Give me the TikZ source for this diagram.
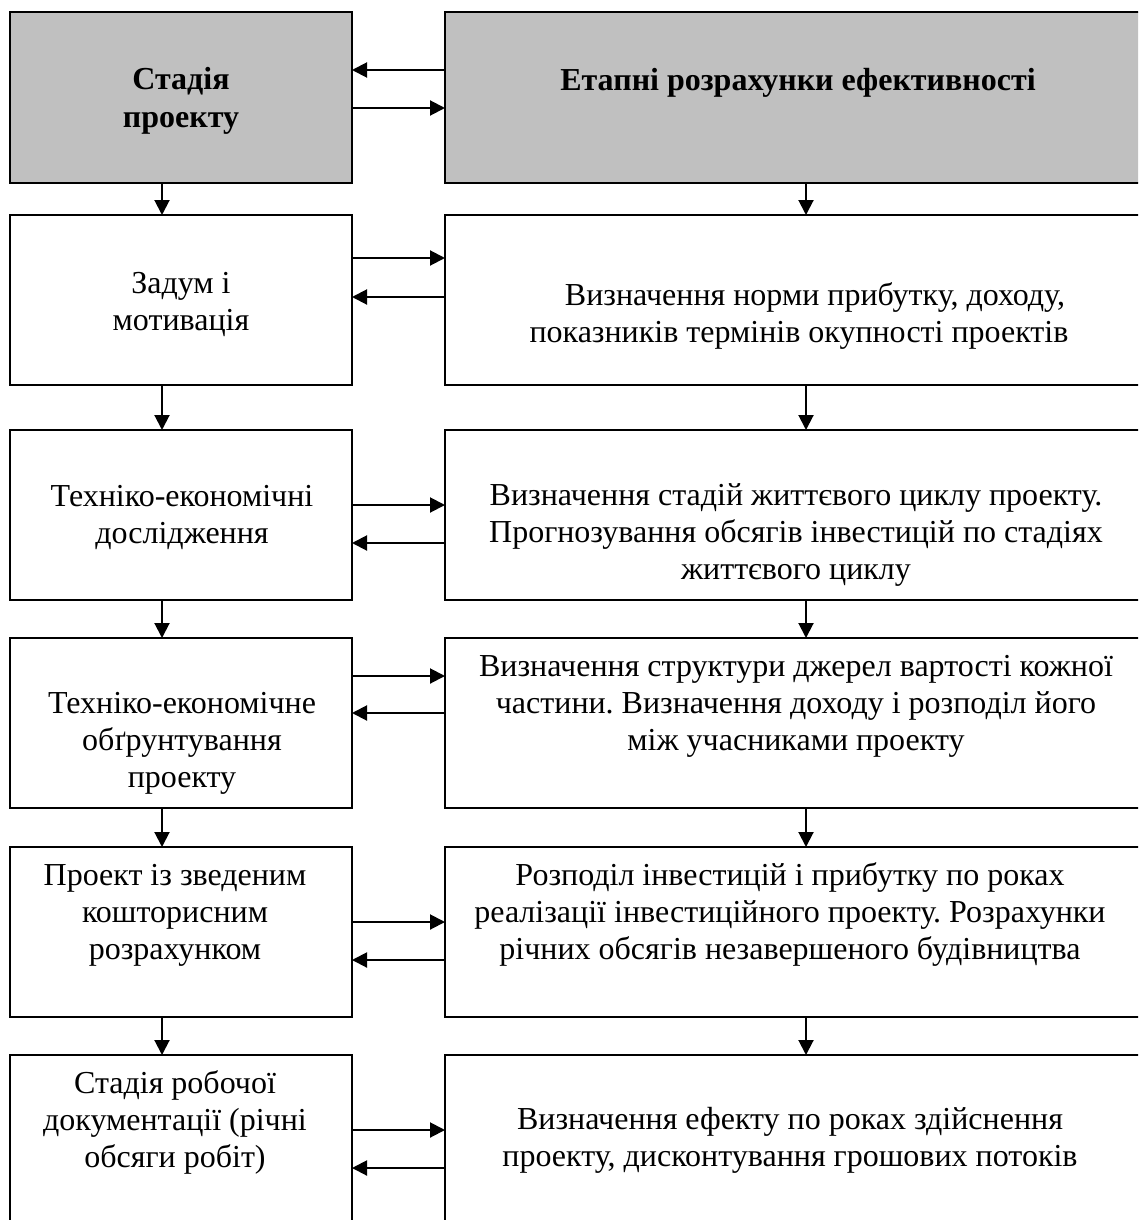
\documentclass[tikz,border=0pt]{standalone}
\usepackage{fontspec}
\setmainfont{Liberation Serif}
\usetikzlibrary{arrows.meta}
\definecolor{boxgray}{RGB}{192,192,192}
\frenchspacing
\tikzset{
  box/.style={draw=black, line width=1.5pt, anchor=north west, inner sep=0pt, outer sep=0pt},
  lbox/.style={box, minimum width=342pt},
  rbox/.style={box, minimum width=703pt},
  head/.style={fill=boxgray},
  txt/.style={align=center, inner sep=0pt, font=\fontsize{32pt}{37pt}\selectfont\frenchspacing},
  btxt/.style={txt, font=\fontsize{32pt}{38pt}\selectfont\bfseries\frenchspacing},
  arr/.style={line width=2pt, -{Triangle[length=15pt,width=15pt]}}
}
\begin{document}
\begin{tikzpicture}[x=1pt,y=-1pt]
\useasboundingbox (0,0) rectangle (1138,1220);
\clip (0,0) rectangle (1138,1220);
% boxes
\node[lbox, head, minimum height=171pt] (l1) at (10,12) {};
\node[rbox, head, minimum height=171pt] (r1) at (445,12) {};
\node[lbox, minimum height=170pt] (l2) at (10,215) {};
\node[rbox, minimum height=170pt] (r2) at (445,215) {};
\node[lbox, minimum height=170pt] (l3) at (10,430) {};
\node[rbox, minimum height=170pt] (r3) at (445,430) {};
\node[lbox, minimum height=170pt] (l4) at (10,638) {};
\node[rbox, minimum height=170pt] (r4) at (445,638) {};
\node[lbox, minimum height=170pt] (l5) at (10,847) {};
\node[rbox, minimum height=170pt] (r5) at (445,847) {};
\node[lbox, minimum height=172pt] (l6) at (10,1055) {};
\node[rbox, minimum height=172pt] (r6) at (445,1055) {};
% texts
\node[btxt] (tl1) at (181,101) {Стадія\\проекту};
\node[btxt] (tr1) at (798,83) {Етапні розрахунки ефективності};
\node[txt] (tl2) at (181,304) {Задум і\\мотивація};
\node[txt] (tr2) at (799,316) {\hspace*{32pt}Визначення норми прибутку, доходу,\\показників термінів окупності проектів};
\node[txt] (tl3) at (182,517) {Техніко-економічні\\дослідження};
\node[txt] (tr3) at (796,535) {Визначення стадій життєвого циклу проекту.\\Прогнозування обсягів інвестицій по стадіях\\життєвого циклу};
\node[txt] (tl4) at (182,743) {Техніко-економічне\\обґрунтування\\проекту};
\node[txt] (tr4) at (796,706) {Визначення структури джерел вартості кожної\\частини. Визначення доходу і розподіл його\\між учасниками проекту};
\node[txt] (tl5) at (175,915) {Проект із зведеним\\кошторисним\\розрахунком};
\node[txt] (tr5) at (790,914) {Розподіл інвестицій і прибутку по роках\\реалізації інвестиційного проекту. Розрахунки\\річних обсягів незавершеного будівництва};
\node[txt] (tl6) at (175,1122) {Стадія робочої\\документації (річні\\обсяги робіт)};
\node[txt] (tr6) at (790,1140) {Визначення ефекту по роках здійснення\\проекту, дисконтування грошових потоків};
% horizontal arrows
\draw[arr] ([yshift=-58pt]r1.north west) -- ([yshift=-58pt]l1.north east);
\draw[arr] ([yshift=-96pt]l1.north east) -- ([yshift=-96pt]r1.north west);
\draw[arr] ([yshift=-43pt]l2.north east) -- ([yshift=-43pt]r2.north west);
\draw[arr] ([yshift=-82pt]r2.north west) -- ([yshift=-82pt]l2.north east);
\draw[arr] ([yshift=-75pt]l3.north east) -- ([yshift=-75pt]r3.north west);
\draw[arr] ([yshift=-113pt]r3.north west) -- ([yshift=-113pt]l3.north east);
\draw[arr] ([yshift=-38pt]l4.north east) -- ([yshift=-38pt]r4.north west);
\draw[arr] ([yshift=-75pt]r4.north west) -- ([yshift=-75pt]l4.north east);
\draw[arr] ([yshift=-75pt]l5.north east) -- ([yshift=-75pt]r5.north west);
\draw[arr] ([yshift=-113pt]r5.north west) -- ([yshift=-113pt]l5.north east);
\draw[arr] ([yshift=-75pt]l6.north east) -- ([yshift=-75pt]r6.north west);
\draw[arr] ([yshift=-113pt]r6.north west) -- ([yshift=-113pt]l6.north east);
% vertical arrows
\foreach \a/\b in {1/2,2/3,3/4,4/5,5/6}{
  \draw[arr] ([xshift=152pt]l\a.south west) -- ([xshift=152pt]l\b.north west);
  \draw[arr] ([xshift=361pt]r\a.south west) -- ([xshift=361pt]r\b.north west);
}
\end{tikzpicture}
\end{document}
